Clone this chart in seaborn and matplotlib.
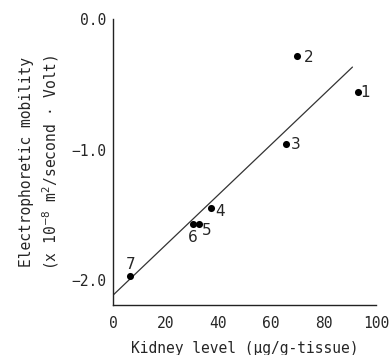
import numpy as np
import matplotlib
matplotlib.use('Agg')
import matplotlib.pyplot as plt
import seaborn as sns

sns.set_style('white')
plt.rcParams['font.family'] = ['DejaVu Sans Mono', 'DejaVu Sans']
plt.rcParams['mathtext.fontset'] = 'dejavusans'

# data
sample_ids = ['1', '2', '3', '4', '5', '6', '7']
kidney_level = [93.0, 70.0, 65.9, 37.3, 32.6, 30.3, 6.5]
mobility = [-0.56, -0.28, -0.96, -1.45, -1.57, -1.57, -1.97]
fit_range = [0, 91]

xticks = [0, 20, 40, 60, 80, 100]
yticks = [0.0, -1.0, -2.0]

# label offsets (points) for each sample number
label_offsets = [(5.5, 0), (8.4, -1.2), (6.5, 0), (6.5, -2.5), (5.5, -4.5), (0, -9.4), (0, 8.4)]

fig = plt.figure(figsize=(3.91, 3.55), dpi=100)
ax = fig.add_axes([0.289, 0.141, 0.673, 0.805])

sns.scatterplot(x=kidney_level, y=mobility, color='black', s=26,
                edgecolor='black', linewidth=0, ax=ax, zorder=3)

slope, intercept = np.polyfit(kidney_level, mobility, 1)
xs = np.array(fit_range)
sns.lineplot(x=xs, y=slope * xs + intercept, color='#333333', lw=0.9, ax=ax)

for sid, xv, yv, off in zip(sample_ids, kidney_level, mobility, label_offsets):
    ax.annotate(sid, (xv, yv), xytext=off, textcoords='offset points',
                fontsize=11, ha='center', va='center',
                family=['DejaVu Sans', 'DejaVu Sans Mono'])

ax.set_xlim(0, 100)
ax.set_ylim(-2.19, 0.0)
ax.set_xticks(xticks)
ax.set_yticks(yticks)
ax.set_yticklabels(['0.0', '\u22121.0', '\u22122.0'])
ax.tick_params(direction='in', length=4, width=0.9, labelsize=10.5, color='#222222')
ax.tick_params(axis='x', pad=8)
ax.tick_params(axis='y', pad=5)
sns.despine(ax=ax)
for sp in ['left', 'bottom']:
    ax.spines[sp].set_linewidth(1.0)
    ax.spines[sp].set_color('#222222')

ax.set_xlabel('Kidney level (\u03bcg/g-tissue)', fontsize=10.5, labelpad=7)
ax.set_ylabel('Electrophoretic mobility\n(x 10$^{-8}$ m$^{2}$/second \u00b7 Volt)',
              fontsize=10.5, labelpad=7, linespacing=1.4)

fig.savefig('out.png', dpi=100, facecolor='white')
